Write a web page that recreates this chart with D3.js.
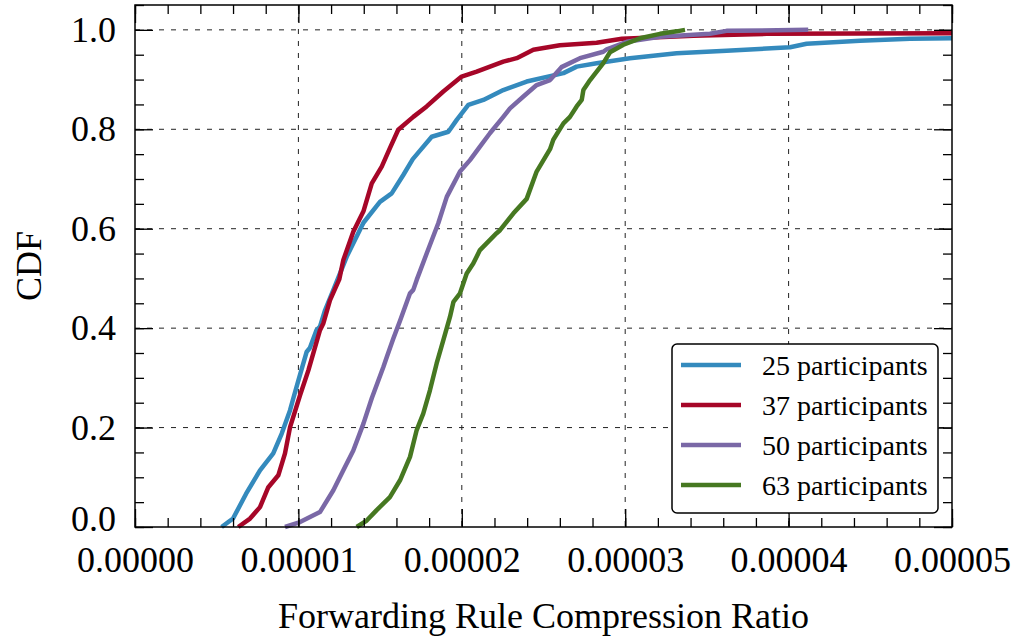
<!DOCTYPE html>
<html>
<head>
<meta charset="utf-8">
<script src="https://cdn.jsdelivr.net/npm/d3@7"></script>
<style>
  body { margin: 0; background: #fff; }
  svg text { font-family: "Liberation Serif", "Times New Roman", serif; fill: #000; }
</style>
</head>
<body>
<div id="chart"></div>
<script>
// CDF points: [compression ratio, cdf]
const p25 = [
  [0.53e-5, 0], [0.60e-5, 0.017], [0.68e-5, 0.067], [0.765e-5, 0.114], [0.846e-5, 0.148],
  [0.898e-5, 0.188], [0.949e-5, 0.235], [0.969e-5, 0.259], [1.0e-5, 0.295], [1.05e-5, 0.352],
  [1.07e-5, 0.36], [1.111e-5, 0.396], [1.132e-5, 0.403], [1.163e-5, 0.436], [1.214e-5, 0.477],
  [1.296e-5, 0.544], [1.398e-5, 0.612], [1.499e-5, 0.654], [1.571e-5, 0.671], [1.642e-5, 0.708],
  [1.70e-5, 0.74], [1.744e-5, 0.757], [1.816e-5, 0.785], [1.918e-5, 0.795], [1.969e-5, 0.819],
  [2.04e-5, 0.849], [2.132e-5, 0.859], [2.254e-5, 0.879], [2.397e-5, 0.896], [2.622e-5, 0.913],
  [2.703e-5, 0.926], [2.825e-5, 0.933], [3.029e-5, 0.943], [3.315e-5, 0.953], [3.62e-5, 0.958],
  [4.009e-5, 0.965], [4.11e-5, 0.972], [4.437e-5, 0.978], [4.743e-5, 0.982], [5.0e-5, 0.983]
];
const p37 = [
  [0.632e-5, 0], [0.704e-5, 0.017], [0.765e-5, 0.04], [0.816e-5, 0.08], [0.877e-5, 0.104],
  [0.918e-5, 0.148], [0.949e-5, 0.201], [1.01e-5, 0.265], [1.061e-5, 0.315], [1.132e-5, 0.396],
  [1.153e-5, 0.41], [1.193e-5, 0.456], [1.25e-5, 0.498], [1.275e-5, 0.537], [1.336e-5, 0.594],
  [1.398e-5, 0.635], [1.449e-5, 0.691], [1.51e-5, 0.725], [1.56e-5, 0.762], [1.611e-5, 0.799],
  [1.703e-5, 0.825], [1.785e-5, 0.846], [1.887e-5, 0.876], [1.999e-5, 0.906], [2.091e-5, 0.916],
  [2.254e-5, 0.936], [2.336e-5, 0.943], [2.438e-5, 0.96], [2.6e-5, 0.969], [2.825e-5, 0.974],
  [2.98e-5, 0.982], [3.417e-5, 0.988], [3.866e-5, 0.992], [5.0e-5, 0.993]
];
const p50 = [
  [0.918e-5, 0], [1.01e-5, 0.01], [1.132e-5, 0.03], [1.214e-5, 0.074], [1.275e-5, 0.114],
  [1.336e-5, 0.154], [1.398e-5, 0.208], [1.449e-5, 0.259], [1.52e-5, 0.322], [1.541e-5, 0.342],
  [1.581e-5, 0.379], [1.622e-5, 0.415], [1.683e-5, 0.47], [1.703e-5, 0.477], [1.724e-5, 0.497],
  [1.785e-5, 0.55], [1.856e-5, 0.611], [1.908e-5, 0.664], [1.989e-5, 0.715], [2.05e-5, 0.738],
  [2.111e-5, 0.765], [2.172e-5, 0.792], [2.254e-5, 0.825], [2.295e-5, 0.842], [2.377e-5, 0.866],
  [2.458e-5, 0.889], [2.54e-5, 0.899], [2.61e-5, 0.925], [2.723e-5, 0.943], [2.866e-5, 0.956],
  [2.887e-5, 0.961], [3.01e-5, 0.976], [3.213e-5, 0.986], [3.519e-5, 0.992], [3.62e-5, 0.998],
  [4.12e-5, 1.0]
];
const p63 = [
  [1.357e-5, 0], [1.418e-5, 0.013], [1.479e-5, 0.034], [1.56e-5, 0.06], [1.622e-5, 0.094],
  [1.683e-5, 0.141], [1.724e-5, 0.195], [1.764e-5, 0.228], [1.805e-5, 0.275], [1.846e-5, 0.329],
  [1.887e-5, 0.376], [1.928e-5, 0.423], [1.949e-5, 0.453], [1.989e-5, 0.47], [2.03e-5, 0.51],
  [2.07e-5, 0.53], [2.111e-5, 0.557], [2.213e-5, 0.591], [2.234e-5, 0.597], [2.316e-5, 0.631],
  [2.397e-5, 0.66], [2.458e-5, 0.715], [2.54e-5, 0.76], [2.56e-5, 0.779], [2.622e-5, 0.812],
  [2.662e-5, 0.825], [2.703e-5, 0.846], [2.734e-5, 0.859], [2.744e-5, 0.879], [2.785e-5, 0.899],
  [2.866e-5, 0.933], [2.907e-5, 0.955], [2.989e-5, 0.97], [3.09e-5, 0.983], [3.213e-5, 0.992],
  [3.315e-5, 0.997], [3.366e-5, 1.0]
];

const seriesNames = ['25 participants', '37 participants', '50 participants', '63 participants'];
const seriesData = [p25, p37, p50, p63];
const colors = ['#348ABD', '#A60628', '#7A68A6', '#467821'];

const xTicks = [0, 1e-5, 2e-5, 3e-5, 4e-5, 5e-5];
const yTicks = [0, 0.2, 0.4, 0.6, 0.8, 1.0];

const width = 1016, height = 637;
const margin = { top: 5, right: 64, bottom: 110, left: 135 };
const innerW = width - margin.left - margin.right;
const innerH = height - margin.top - margin.bottom;

const svg = d3.select('#chart').append('svg')
  .attr('width', width)
  .attr('height', height);

const g = svg.append('g').attr('transform', `translate(${margin.left},${margin.top})`);

const x = d3.scaleLinear().domain([0, 5e-5]).range([0, innerW]);
const y = d3.scaleLinear().domain([0, 1.05]).range([innerH, 0]);

// grid
g.append('g')
  .selectAll('line')
  .data(xTicks.slice(1, -1))
  .join('line')
  .attr('x1', d => x(d)).attr('x2', d => x(d))
  .attr('y1', 0).attr('y2', innerH)
  .attr('stroke', '#222').attr('stroke-width', 1).attr('stroke-dasharray', '5,7');

g.append('g')
  .selectAll('line')
  .data(yTicks.slice(1))
  .join('line')
  .attr('x1', 0).attr('x2', innerW)
  .attr('y1', d => y(d)).attr('y2', d => y(d))
  .attr('stroke', '#222').attr('stroke-width', 1).attr('stroke-dasharray', '5,7');

// lines
const line = d3.line().x(d => x(d[0])).y(d => y(d[1]));

g.append('g')
  .selectAll('path')
  .data(seriesData)
  .join('path')
  .attr('d', line)
  .attr('fill', 'none')
  .attr('stroke', (d, i) => colors[i])
  .attr('stroke-width', 4.5)
  .attr('stroke-linejoin', 'round');

// axes with inward ticks
const xMinor = d3.range(0, 5e-5 + 1e-9, 2e-6);
const yMinor = d3.range(0, 1.05 + 1e-9, 0.05);

function styleAxis(sel) {
  sel.select('.domain').remove();
  sel.selectAll('line').attr('stroke', '#000').attr('stroke-width', 1.3);
}

g.append('g').attr('transform', `translate(0,${innerH})`)
  .call(d3.axisBottom(x).tickValues(xMinor).tickSize(-9).tickFormat(''))
  .call(styleAxis);
g.append('g')
  .call(d3.axisTop(x).tickValues(xMinor).tickSize(-9).tickFormat(''))
  .call(styleAxis);
g.append('g')
  .call(d3.axisLeft(y).tickValues(yMinor).tickSize(-9).tickFormat(''))
  .call(styleAxis);
g.append('g').attr('transform', `translate(${innerW},0)`)
  .call(d3.axisRight(y).tickValues(yMinor).tickSize(-9).tickFormat(''))
  .call(styleAxis);

const xAxis = g.append('g').attr('transform', `translate(0,${innerH})`)
  .call(d3.axisBottom(x).tickValues(xTicks).tickSize(-18).tickPadding(19).tickFormat(d => d.toFixed(5)))
  .call(styleAxis);
xAxis.selectAll('text').attr('font-size', 36);

g.append('g')
  .call(d3.axisTop(x).tickValues(xTicks).tickSize(-18).tickFormat(''))
  .call(styleAxis);

const yAxis = g.append('g')
  .call(d3.axisLeft(y).tickValues(yTicks).tickSize(-18).tickPadding(19).tickFormat(d3.format('.1f')))
  .call(styleAxis);
yAxis.selectAll('text').attr('font-size', 36);
// lift the bottom label a little so it clears the x tick labels
yAxis.selectAll('text').filter(d => d === 0).attr('dy', '0.1em');

g.append('g').attr('transform', `translate(${innerW},0)`)
  .call(d3.axisRight(y).tickValues(yTicks).tickSize(-18).tickFormat(''))
  .call(styleAxis);

// frame
g.append('rect')
  .attr('width', innerW).attr('height', innerH)
  .attr('fill', 'none').attr('stroke', '#000').attr('stroke-width', 1.5);

// axis labels
svg.append('text')
  .attr('x', margin.left + innerW / 2)
  .attr('y', 628)
  .attr('text-anchor', 'middle')
  .attr('font-size', 36)
  .text('Forwarding Rule Compression Ratio');

svg.append('text')
  .attr('transform', `translate(41,${margin.top + innerH / 2}) rotate(-90)`)
  .attr('text-anchor', 'middle')
  .attr('font-size', 36)
  .text('CDF');

// legend
const legend = svg.append('g').attr('transform', 'translate(672,344)');
legend.append('rect')
  .attr('width', 266).attr('height', 169)
  .attr('rx', 5).attr('ry', 5)
  .attr('fill', '#fff').attr('stroke', '#000').attr('stroke-width', 1.5);

seriesNames.forEach((name, i) => {
  const row = legend.append('g').attr('transform', `translate(0,${21 + i * 40})`);
  row.append('line')
    .attr('x1', 9).attr('x2', 69)
    .attr('stroke', colors[i]).attr('stroke-width', 4.5);
  row.append('text')
    .attr('x', 90).attr('y', 10)
    .attr('font-size', 28)
    .text(name);
});
</script>
</body>
</html>
